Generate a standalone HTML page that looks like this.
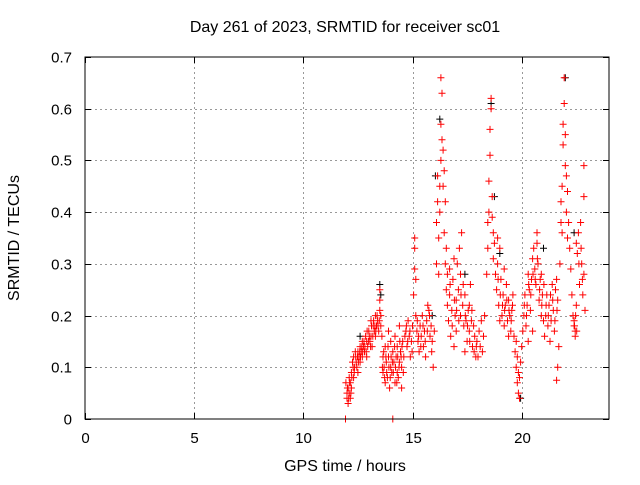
<!DOCTYPE html>
<html><head><meta charset="utf-8"><style>
body{margin:0;background:#fff;}
svg text{font-family:"Liberation Sans",sans-serif;font-size:15px;fill:#000;}
svg text.big{font-size:16px;}
</style></head><body>
<svg id="chart" width="640" height="480" viewBox="0 0 640 480" xmlns="http://www.w3.org/2000/svg">
<rect width="640" height="480" fill="#fff"/>
<g id="grid"></g>
<g id="ticks"></g>
<g id="black"></g>
<g id="red"></g>
<rect x="85" y="57" width="524" height="362" fill="none" stroke="#000" stroke-width="1"/>
<text class="big" x="345" y="32" text-anchor="middle">Day 261 of 2023, SRMTID for receiver sc01</text>
<text class="big" x="345" y="471" text-anchor="middle">GPS time / hours</text>
<text class="big" transform="translate(19,238) rotate(-90)" text-anchor="middle">SRMTID / TECUs</text>
</svg>
<script>
const xTicks=[0,5,10,15,20];
const yTicks=[0,0.1,0.2,0.3,0.4,0.5,0.6,0.7];
const yTickLabels=["0","0.1","0.2","0.3","0.4","0.5","0.6","0.7"];
const redHours=[11.93,11.95,12.0,12.0,12.05,12.05,12.1,12.1,12.15,12.15,12.2,12.2,12.25,12.3,12.3,12.35,12.4,
12.45,12.5,12.5,12.55,12.6,12.6,12.65,12.7,12.7,12.75,12.8,12.85,12.9,12.9,12.95,13.0,13.05,13.1,13.1,13.15,13.2,13.25,13.3,13.3,13.35,13.4,13.45,13.5,13.5,13.5,13.55,13.55,
13.6,13.65,13.65,13.7,13.75,13.75,13.8,13.85,13.9,13.9,13.95,14.0,14.0,14.05,14.1,14.1,14.15,14.2,14.2,14.25,14.3,14.3,14.35,14.4,14.4,14.45,14.5,14.5,14.55,14.6,
14.7,14.75,14.8,14.85,14.9,14.95,15.0,15.05,15.1,15.1,15.1,15.15,15.15,15.2,15.25,15.3,15.35,15.4,15.45,15.5,15.55,15.6,15.65,15.7,15.75,15.8,15.85,15.9,15.95,16.0,
16.1,16.1,16.15,16.15,16.2,16.2,16.25,16.25,16.3,16.3,16.3,16.35,16.35,16.4,16.4,16.45,16.45,16.5,16.5,16.55,16.55,16.6,16.6,
16.65,16.7,16.75,16.8,16.85,16.9,16.95,17.0,17.05,17.1,17.15,17.2,17.25,17.3,17.35,17.4,17.45,17.5,17.55,17.6,17.65,17.7,17.75,17.8,17.85,17.9,16.7,16.9,17.0,17.2,17.4,17.6,
17.95,18.0,18.05,18.1,18.15,18.2,18.25,18.3,
18.4,18.45,18.45,18.5,18.5,18.55,18.55,18.6,18.6,18.65,18.65,18.7,18.7,18.75,18.8,
18.85,18.9,18.95,19.0,19.05,19.1,19.15,19.2,19.25,19.3,19.35,19.4,19.45,19.5,19.55,19.6,18.9,19.0,19.2,19.4,
19.65,19.7,19.75,19.75,19.8,19.8,19.85,19.85,19.9,19.9,19.95,20.0,20.05,
20.1,20.15,20.2,20.25,20.3,20.35,20.4,20.45,20.5,20.55,20.6,20.65,20.7,20.75,20.8,20.85,20.9,20.95,21.0,20.3,20.5,20.7,20.9,
21.05,21.1,21.15,21.2,21.25,21.3,21.35,21.4,21.45,21.5,21.55,21.6,21.65,21.7,21.6,21.65,
21.75,21.8,21.8,21.85,21.85,21.9,21.9,21.95,21.95,22.0,22.0,22.05,22.05,22.1,22.1,22.15,22.2,
22.25,22.3,22.35,22.4,22.45,22.5,22.55,22.6,22.65,22.7,22.75,22.8,22.85,22.9,22.4,22.45,22.5,22.85,22.85,
12.02,12.08,12.12,12.18,12.22,12.28,12.33,12.38,12.42,12.48,12.52,12.58,12.62,12.68,12.72,12.78,12.82,12.88,12.92,12.98,13.02,13.08,13.12,13.18,13.22,13.28,13.32,13.38,13.42,13.48,
13.62,13.68,13.72,13.78,13.82,13.88,13.92,13.98,14.02,14.08,14.12,14.18,14.22,14.28,14.32,14.38,14.42,14.48,14.52,14.58,
14.65,14.72,14.78,14.88,14.98,15.22,15.28,15.38,15.48,15.58,15.68,15.78,15.88,
16.72,16.82,16.92,17.02,17.12,17.22,17.32,17.42,17.52,17.62,17.72,17.82,17.92,
18.92,19.02,19.12,19.22,19.32,19.42,19.52,19.58,
20.12,20.22,20.32,20.42,20.52,20.62,20.72,20.82,20.92,21.02,21.12,21.22,21.32,21.42,21.52,21.62,
22.42,22.47,22.52,22.62,22.72,22.78];
const redValues=[0,0.07,0.05,0.04,0.06,0.03,0.08,0.05,0.07,0.04,0.06,0.09,0.11,0.08,0.12,0.10,0.12,
0.10,0.13,0.09,0.12,0.14,0.11,0.13,0.12,0.15,0.14,0.13,0.16,0.15,0.12,0.14,0.17,0.15,0.16,0.19,0.14,0.18,0.17,0.20,0.16,0.18,0.19,0.17,0.23,0.25,0.21,0.18,0.20,
0.16,0.12,0.09,0.10,0.14,0.07,0.11,0.08,0.17,0.12,0.06,0.10,0.15,0.09,0.00,0.13,0.11,0.07,0.16,0.12,0.09,0.14,0.08,0.11,0.18,0.13,0.06,0.10,0.15,0.12,
0.17,0.14,0.19,0.16,0.12,0.15,0.18,0.24,0.29,0.33,0.35,0.27,0.20,0.17,0.15,0.13,0.18,0.16,0.20,0.14,0.17,0.12,0.19,0.22,0.21,0.16,0.18,0.15,0.10,0.17,
0.30,0.38,0.42,0.47,0.35,0.28,0.40,0.45,0.50,0.57,0.66,0.63,0.54,0.52,0.45,0.48,0.36,0.42,0.30,0.25,0.33,0.22,0.28,
0.19,0.24,0.16,0.21,0.27,0.14,0.20,0.17,0.30,0.25,0.33,0.28,0.36,0.22,0.18,0.24,0.19,0.15,0.21,0.17,0.26,0.19,0.14,0.18,0.16,0.12,0.29,0.31,0.23,0.20,0.13,0.22,
0.15,0.12,0.17,0.14,0.19,0.13,0.16,0.20,
0.28,0.33,0.38,0.40,0.46,0.51,0.56,0.62,0.60,0.43,0.39,0.36,0.31,0.34,0.28,
0.25,0.30,0.22,0.33,0.27,0.20,0.24,0.18,0.22,0.26,0.19,0.23,0.20,0.17,0.21,0.24,0.35,0.19,0.29,0.16,
0.16,0.13,0.10,0.15,0.07,0.12,0.05,0.09,0.04,0.08,0.11,0.14,0.17,
0.20,0.24,0.18,0.22,0.28,0.25,0.21,0.27,0.31,0.33,0.29,0.26,0.34,0.30,0.23,0.27,0.20,0.24,0.19,0.15,0.17,0.36,0.28,
0.16,0.20,0.24,0.18,0.22,0.15,0.19,0.26,0.21,0.17,0.25,0.27,0.23,0.14,0.075,0.10,
0.30,0.38,0.42,0.36,0.45,0.53,0.57,0.61,0.66,0.55,0.49,0.47,0.40,0.44,0.35,0.38,0.33,
0.29,0.24,0.20,0.18,0.17,0.22,0.32,0.36,0.26,0.38,0.30,0.24,0.28,0.21,0.19,0.16,0.34,0.43,0.49,
0.06,0.04,0.07,0.05,0.08,0.10,0.09,0.13,0.11,0.12,0.11,0.13,0.12,0.14,0.13,0.15,0.14,0.13,0.17,0.15,0.16,0.14,0.18,0.16,0.19,0.18,0.17,0.20,0.18,0.19,
0.10,0.13,0.08,0.12,0.09,0.14,0.10,0.08,0.12,0.11,0.09,0.14,0.10,0.07,0.12,0.10,0.15,0.12,0.14,0.09,
0.16,0.18,0.15,0.17,0.13,0.19,0.16,0.14,0.18,0.15,0.17,0.20,0.13,
0.26,0.18,0.23,0.21,0.19,0.24,0.26,0.20,0.18,0.15,0.21,0.13,0.14,
0.27,0.24,0.22,0.21,0.23,0.21,0.19,0.22,
0.22,0.20,0.26,0.24,0.28,0.27,0.31,0.25,0.22,0.26,0.22,0.20,0.24,0.23,0.19,0.21,
0.18,0.20,0.17,0.30,0.33,0.27];
const blackHours=[12.6,13.5,13.55,15.9,16.05,16.25,17.4,18.6,18.75,19.0,19.95,21.0,22.0,22.4];
const blackValues=[0.16,0.26,0.24,0.20,0.47,0.58,0.28,0.61,0.43,0.32,0.04,0.33,0.66,0.36];

const X0=85,X1=609,Y0=419,Y1=57,XMAX=24,YMAX=0.7;
function xs(h){return X0+h*(X1-X0)/XMAX;}
function ys(v){return Y0-v*(Y0-Y1)/YMAX;}
const NS="http://www.w3.org/2000/svg";
const grid=document.getElementById('grid'),ticks=document.getElementById('ticks');
function line(g,x1,y1,x2,y2,st,dash){const l=document.createElementNS(NS,'line');l.setAttribute('x1',x1);l.setAttribute('y1',y1);l.setAttribute('x2',x2);l.setAttribute('y2',y2);l.setAttribute('stroke',st);if(dash)l.setAttribute('stroke-dasharray',dash);g.appendChild(l);return l;}
function txt(x,y,s,anchor){const t=document.createElementNS(NS,'text');t.setAttribute('x',x);t.setAttribute('y',y);t.setAttribute('text-anchor',anchor);t.textContent=s;document.getElementById('chart').appendChild(t);return t;}
xTicks.forEach(v=>{const x=Math.round(xs(v))+0.5;
 if(v>0){const g=line(grid,x,Y1,x,Y0,'#999','2,3');}
 line(ticks,x,Y0,x,Y0-6,'#000');line(ticks,x,Y1,x,Y1+6,'#000');
 const t=txt(x,443,String(v),'middle');
 
 });
yTicks.forEach((v,i)=>{const y=Math.round(ys(v))+0.5;
 if(v>0&&v<YMAX){const g=line(grid,X0,y,X1,y,'#999','2,3');}
 line(ticks,X0,y,X0+6,y,'#000');line(ticks,X1,y,X1-6,y,'#000');
 const t=txt(72,y+5,yTickLabels[i],'end');
 
 });
function plot(gid,hs,vs,col){const g=document.getElementById(gid);let d='';
 for(let i=0;i<hs.length;i++){const x=xs(hs[i]),y=ys(vs[i]);d+=`M${(x-3.5).toFixed(1)} ${y.toFixed(1)}h7M${x.toFixed(1)} ${(y-3.5).toFixed(1)}v7`;}
 const p=document.createElementNS(NS,'path');p.setAttribute('d',d);p.setAttribute('stroke',col);p.setAttribute('stroke-width','1');p.setAttribute('fill','none');
 
 
 g.appendChild(p);}
plot('black',blackHours,blackValues,'#000');
plot('red',redHours,redValues,'#f00');
</script>
</body></html>
